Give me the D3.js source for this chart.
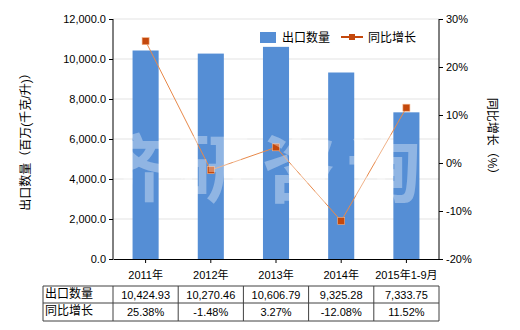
<!DOCTYPE html>
<html lang="zh">
<head>
    <meta charset="UTF-8">
    <script src="https://d3js.org/d3.v7.min.js"></script>
    <title>出口数量</title>
    <style>
        body { margin: 0; background: #fff; }
        text { font-family: "Liberation Sans", Arial, "Noto Sans CJK SC", sans-serif; }
    </style>
</head>
<body>
<script>
    var categories = ["2011年", "2012年", "2013年", "2014年", "2015年1-9月"];
    var exportQty = [10424.93, 10270.46, 10606.79, 9325.28, 7333.75];
    var yoyGrowth = [25.38, -1.48, 3.27, -12.08, 11.52];
    var qtyLabels = ["10,424.93", "10,270.46", "10,606.79", "9,325.28", "7,333.75"];
    var yoyLabels = ["25.38%", "-1.48%", "3.27%", "-12.08%", "11.52%"];
    var leftTicks = [0, 2000, 4000, 6000, 8000, 10000, 12000];
    var rightTicks = [-20, -10, 0, 10, 20, 30];

    var width = 520, height = 330;
    var plotL = 113, plotR = 439, plotT = 19, plotB = 259;
    var barColor = "#558ed5";
    var lineColor = "#e8894a";
    var markColor = "#c4480c";

    var svg = d3.select("body").append("svg")
            .attr("width", width)
            .attr("height", height);

    var x = d3.scaleBand().domain(categories).range([plotL, plotR]);
    var y = d3.scaleLinear().domain([0, 12000]).range([plotB, plotT]);
    var y2 = d3.scaleLinear().domain([-20, 30]).range([plotB, plotT]);

    // grid
    svg.append("g").selectAll("line")
            .data(leftTicks.slice(1))
            .enter().append("line")
            .attr("x1", plotL).attr("x2", plotR)
            .attr("y1", function (d) { return y(d); })
            .attr("y2", function (d) { return y(d); })
            .attr("stroke", "#e3e3e3");

    // bars
    var bw = x.bandwidth() * 0.4;
    svg.append("g").selectAll("rect")
            .data(exportQty)
            .enter().append("rect")
            .attr("x", function (d, i) { return x(categories[i]) + (x.bandwidth() - bw) / 2; })
            .attr("y", function (d) { return y(d); })
            .attr("width", bw)
            .attr("height", function (d) { return plotB - y(d); })
            .attr("fill", barColor);

    // line
    var line = d3.line()
            .x(function (d, i) { return x(categories[i]) + x.bandwidth() / 2; })
            .y(function (d) { return y2(d); });
    svg.append("path")
            .datum(yoyGrowth)
            .attr("d", line)
            .attr("fill", "none")
            .attr("stroke", lineColor)
            .attr("stroke-width", 1);
    svg.append("g").selectAll("rect")
            .data(yoyGrowth)
            .enter().append("rect")
            .attr("x", function (d, i) { return x(categories[i]) + x.bandwidth() / 2 - 3.5; })
            .attr("y", function (d) { return y2(d) - 3.5; })
            .attr("width", 7).attr("height", 7)
            .attr("fill", markColor)
            .attr("stroke", "#f4b183")
            .attr("stroke-width", 0.6);

    // watermark
    svg.append("text")
            .attr("x", 262).attr("y", 196)
            .attr("text-anchor", "middle")
            .attr("font-size", 74)
            .attr("font-weight", "bold")
            .attr("letter-spacing", 11)
            .attr("fill", "#ffffff")
            .attr("fill-opacity", 0.35)
            .style("font-family", "'Noto Sans CJK SC', sans-serif")
            .text("济研咨询");

    // axes
    var yAxis = d3.axisLeft(y).tickValues(leftTicks).tickSize(4)
            .tickFormat(function (d) { return d3.format(",.1f")(d); });
    var gl = svg.append("g").attr("transform", "translate(" + plotL + ",0)").call(yAxis);
    var y2Axis = d3.axisRight(y2).tickValues(rightTicks).tickSize(4)
            .tickFormat(function (d) { return d + "%"; });
    var gr = svg.append("g").attr("transform", "translate(" + plotR + ",0)").call(y2Axis);
    var xAxis = d3.axisBottom(x).tickSize(4).tickSizeOuter(0);
    var gx = svg.append("g").attr("transform", "translate(0," + plotB + ")").call(xAxis);

    [gl, gr, gx].forEach(function (g) {
        g.selectAll("path, line").attr("stroke", "#000");
        g.selectAll("text").attr("font-size", 11).attr("fill", "#000")
                .style("font-family", "'Liberation Sans', Arial, 'Noto Sans CJK SC', sans-serif");
    });
    gl.select(".domain").attr("d", "M0," + plotT + "V" + plotB);
    gr.select(".domain").attr("d", "M0," + plotT + "V" + plotB);
    gx.selectAll("text").attr("dy", "1.2em");

    // axis titles
    svg.append("text")
            .attr("transform", "translate(30," + (plotT + plotB) / 2 + ") rotate(-90)")
            .attr("text-anchor", "middle")
            .attr("font-size", 12)
            .text("出口数量（百万(千克/升)）");
    svg.append("text")
            .attr("transform", "translate(488," + (plotT + plotB) / 2 + ") rotate(90)")
            .attr("text-anchor", "middle")
            .attr("font-size", 12)
            .text("同比增长（%）");

    // legend
    var lg = svg.append("g");
    lg.append("rect").attr("x", 260).attr("y", 32).attr("width", 16).attr("height", 11).attr("fill", barColor);
    lg.append("text").attr("x", 282).attr("y", 42).attr("font-size", 12).text("出口数量");
    lg.append("line").attr("x1", 341).attr("x2", 363).attr("y1", 37).attr("y2", 37)
            .attr("stroke", markColor).attr("stroke-width", 2);
    lg.append("rect").attr("x", 349).attr("y", 34).attr("width", 6).attr("height", 6).attr("fill", markColor);
    lg.append("text").attr("x", 368).attr("y", 42).attr("font-size", 12).text("同比增长");

    // data table
    var rowY = [286, 303, 321];
    var tbl = svg.append("g");
    var colX = [43].concat(categories.map(function (c) { return x(c); })).concat([plotR]);
    rowY.forEach(function (ry) {
        tbl.append("line").attr("x1", 43).attr("x2", plotR).attr("y1", ry).attr("y2", ry)
                .attr("stroke", "#404040");
    });
    colX.forEach(function (cx) {
        tbl.append("line").attr("x1", cx).attr("x2", cx).attr("y1", rowY[0]).attr("y2", rowY[2])
                .attr("stroke", "#404040");
    });
    var rows = [["出口数量", qtyLabels], ["同比增长", yoyLabels]];
    rows.forEach(function (r, ri) {
        tbl.append("text").attr("x", 45).attr("y", rowY[ri] + 12).attr("font-size", 12).text(r[0]);
        tbl.selectAll(null).data(r[1]).enter().append("text")
                .attr("x", function (d, i) { return x(categories[i]) + x.bandwidth() / 2; })
                .attr("y", rowY[ri] + 13)
                .attr("text-anchor", "middle")
                .attr("font-size", 11)
                .text(function (d) { return d; });
    });
</script>
</body>
</html>
